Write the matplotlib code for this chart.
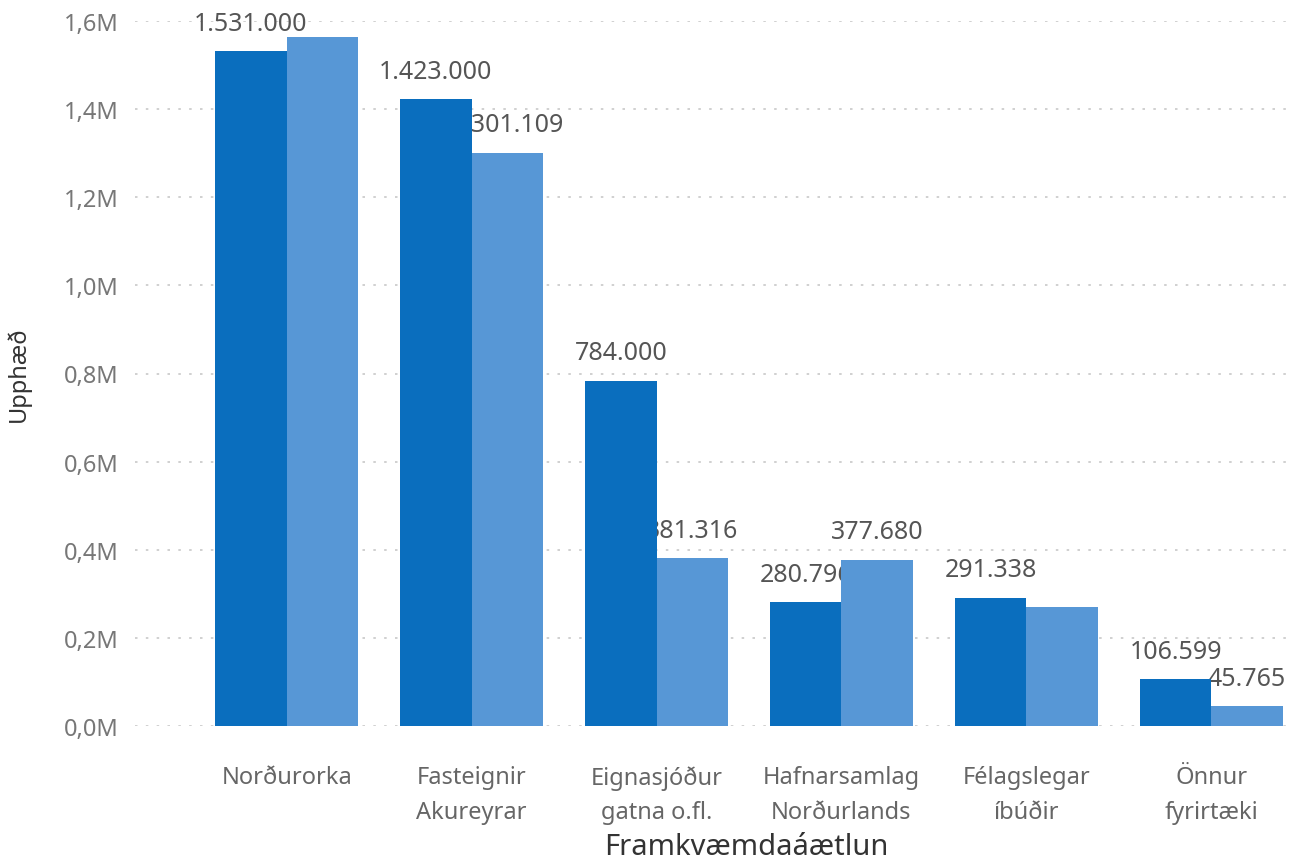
import numpy as np
import matplotlib
matplotlib.use("Agg")
from matplotlib import pyplot as plt, ticker

plt.rcParams['font.family'] = ['Noto Sans', 'DejaVu Sans']

# data
categories = ['Norðurorka', 'Fasteignir\nAkureyrar', 'Eignasjóður\ngatna o.fl.',
              'Hafnarsamlag\nNorðurlands', 'Félagslegar\níbúðir', 'Önnur\nfyrirtæki']
series_a = [1531000, 1423000, 784000, 280796, 291338, 106599]
series_b = [1564000, 1301109, 381316, 377680, 270000, 45765]
show_label_a = [True, True, True, True, True, True]
show_label_b = [False, True, True, True, False, True]
y_ticks = [0, 200000, 400000, 600000, 800000, 1000000, 1200000, 1400000, 1600000]

dark = '#0A6EBE'
light = '#5797D6'


def fmt_num(v):
    return f"{v:,}".replace(',', '.')


fig = plt.figure(figsize=(12.89, 8.62), dpi=100)
ax = fig.add_axes([135 / 1289, 135 / 862, 1 - 135 / 1289, (727 - 22) / 862])

x = np.arange(len(categories))
w = 0.386
bars_a = ax.bar(x - w / 2, series_a, w, color=dark, zorder=3, clip_on=False)
bars_b = ax.bar(x + w / 2, series_b, w, color=light, zorder=3, clip_on=False)

# labels sit under the bars, like the original where neighbours hide digits
for bars, vals, shown in [(bars_a, series_a, show_label_a), (bars_b, series_b, show_label_b)]:
    for b, v, s in zip(bars, vals, shown):
        if not s:
            continue
        ax.annotate(fmt_num(v), (b.get_x() + b.get_width() / 2, v),
                    xytext=(0, 11), textcoords='offset points',
                    ha='center', va='bottom', fontsize=18, color='#555555',
                    zorder=1, annotation_clip=False)

ax.set_xlim(-0.82, 5.42)
ax.set_ylim(0, 1600000)
ax.set_yticks(y_ticks)
ax.yaxis.set_major_formatter(ticker.FuncFormatter(
    lambda v, p: f"{v / 1e6:.1f}M".replace('.', ',')))
ax.set_xticks(x)
ax.set_xticklabels(categories, linespacing=1.6)
ax.grid(axis='y', linestyle=(0, (1.5, 5)), color='#C8C8C8', linewidth=1.2, zorder=0)
ax.set_axisbelow(True)
for sp in ax.spines.values():
    sp.set_visible(False)
ax.tick_params(axis='y', length=0, pad=12, labelsize=17, labelcolor='#777777')
ax.tick_params(axis='x', length=0, pad=28, labelsize=17, labelcolor='#666666')

ax.set_xlabel('Framkvæmdaáætlun', fontsize=21, color='#333333')
ax.xaxis.set_label_coords(0.53, -0.15)
ax.set_ylabel('Upphæð', fontsize=17, color='#333333')
ax.yaxis.set_label_coords(-0.09, 0.5)

fig.savefig('out.png', dpi=100)
